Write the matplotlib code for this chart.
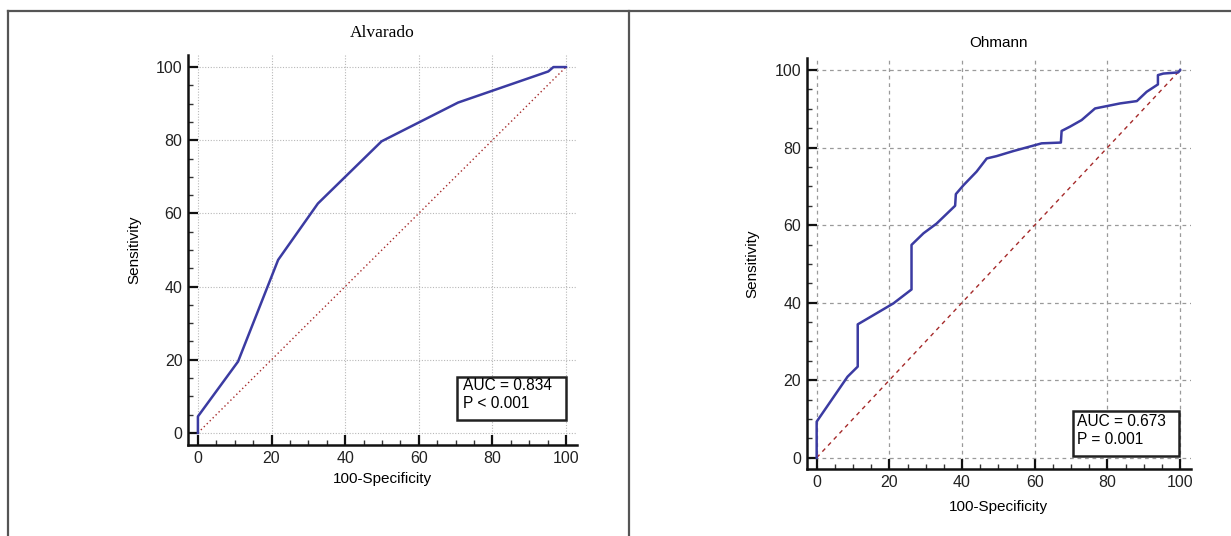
import matplotlib
matplotlib.use("Agg")
import matplotlib.pyplot as plt
from matplotlib.lines import Line2D
from matplotlib.patches import Rectangle
from matplotlib.ticker import MultipleLocator

# ---- data ----
alv_x = [0, 0, 10.9, 21.8, 32.6, 49.9, 70.7, 95.2, 96.6, 100]
alv_y = [0, 4.5, 19.5, 47.3, 62.7, 79.7, 90.3, 98.8, 100, 100]
alv_title = "Alvarado"
alv_lines = ["AUC = 0.834", "P < 0.001"]

ohm_x = [0, 0, 8.5, 11.3, 11.3, 21.1, 26.1, 26.1, 29.4, 33.0, 38.1, 38.3, 40.4,
         44.0, 46.8, 49.5, 54.1, 61.9, 67.2, 67.4, 69.7, 72.9, 76.6, 79.8,
         83.5, 88.1, 90.8, 93.9, 93.9, 95.4, 99.5, 100]
ohm_y = [0, 9.3, 20.9, 23.5, 34.4, 39.8, 43.4, 54.9, 57.9, 60.4, 65.0, 68.0, 70.3,
         73.8, 77.2, 77.8, 79.1, 81.1, 81.3, 84.3, 85.4, 87.1, 90.1, 90.7,
         91.4, 92.0, 94.4, 96.3, 98.7, 99.1, 99.4, 100]
ohm_title = "Ohmann"
ohm_lines = ["AUC = 0.673", "P = 0.001"]

ref_line = [0, 100]
tick_vals = [0, 20, 40, 60, 80, 100]

SANS = ["Liberation Sans", "DejaVu Sans"]
CURVE = "#3b3ba2"
DIAG = "#a52a2a"

fig = plt.figure(figsize=(12.31, 5.36), dpi=100)

# table borders
W, H = 1231, 536
def px(x, y):
    return x / W, 1 - y / H
for (x0, y0, x1, y1) in [(8, 11, 1231, 11), (8, 11, 8, 536), (628.5, 11, 628.5, 536)]:
    a, b = px(x0, y0)
    c, d = px(x1, y1)
    fig.add_artist(Line2D([a, c], [b, d], color="#555555", lw=1.6,
                          transform=fig.transFigure))


def style_axes(ax, xlim, ylim, grid_kw, xlabelpad):
    ax.set_xlim(*xlim)
    ax.set_ylim(*ylim)
    for s in ("top", "right"):
        ax.spines[s].set_visible(False)
    for s in ("left", "bottom"):
        ax.spines[s].set_linewidth(1.8)
        ax.spines[s].set_color("#111111")
    ax.set_xticks(tick_vals)
    ax.set_yticks(tick_vals)
    ax.xaxis.set_minor_locator(MultipleLocator(5))
    ax.yaxis.set_minor_locator(MultipleLocator(5))
    ax.tick_params(which="major", direction="in", length=7, width=1.6,
                   labelsize=11.5, pad=4, color="#111111")
    ax.tick_params(which="minor", direction="in", length=3.5, width=1.0,
                   color="#333333")
    for lab in ax.get_xticklabels() + ax.get_yticklabels():
        lab.set_family(SANS)
        lab.set_color("#222222")
    ax.grid(True, which="major", **grid_kw)
    ax.set_axisbelow(True)
    ax.set_xlabel("100-Specificity", family=SANS, fontsize=11, labelpad=xlabelpad)
    ax.set_ylabel("Sensitivity", family=SANS, fontsize=11)


def stat_box(ax, lines, x0, x1, y0, y1, tx, ty1, ty2):
    ax.add_patch(Rectangle((x0, y0), x1 - x0, y1 - y0, transform=ax.transAxes,
                           facecolor="white", edgecolor="#222222", lw=1.8,
                           zorder=5, clip_on=False))
    for t, ty in zip(lines, (ty1, ty2)):
        ax.text(tx, ty, t, transform=ax.transAxes, family=SANS, fontsize=11.2,
                va="center", ha="left", zorder=6)


# ---- left: Alvarado ----
ax1 = fig.add_axes([0.1527, 0.1698, 0.316, 0.7276])
style_axes(ax1, (-2.7, 103), (-3.3, 103.3),
           dict(color="#b8b8b8", linestyle=(0, (1, 1.5)), linewidth=0.8), 5)
ax1.plot(ref_line, ref_line, color=DIAG, lw=1.0, linestyle=(0, (1, 2)))
ax1.plot(alv_x, alv_y, color=CURVE, lw=1.8, solid_joinstyle="round")
ax1.set_title(alv_title, family=["Liberation Serif", "DejaVu Serif"],
              fontsize=12.5, pad=13)
stat_box(ax1, alv_lines, 0.6915, 0.972, 0.064, 0.174, 0.707,
         (445 - 386) / 390, (445 - 404) / 390)
ax1.yaxis.set_label_coords(-0.121, 0.5)

# ---- right: Ohmann ----
ax2 = fig.add_axes([0.6553, 0.1244, 0.3122, 0.768])
style_axes(ax2, (-2.75, 103), (-3.0, 103.2),
           dict(color="#9a9a9a", linestyle=(0, (3, 3)), linewidth=0.9), 7)
ax2.plot(ref_line, ref_line, color=DIAG, lw=1.0, linestyle=(0, (3, 3)))
ax2.plot(ohm_x, ohm_y, color=CURVE, lw=1.8, solid_joinstyle="round")
ax2.set_title(ohm_title, family=SANS, fontsize=11, pad=8)
stat_box(ax2, ohm_lines, 0.693, 0.969, 0.0323, 0.1416, 0.7033,
         (469.3 - 421) / 411.6, (469.3 - 439) / 411.6)
ax2.yaxis.set_label_coords(-0.124, 0.5)

fig.savefig("out.png", dpi=100, facecolor="white")
